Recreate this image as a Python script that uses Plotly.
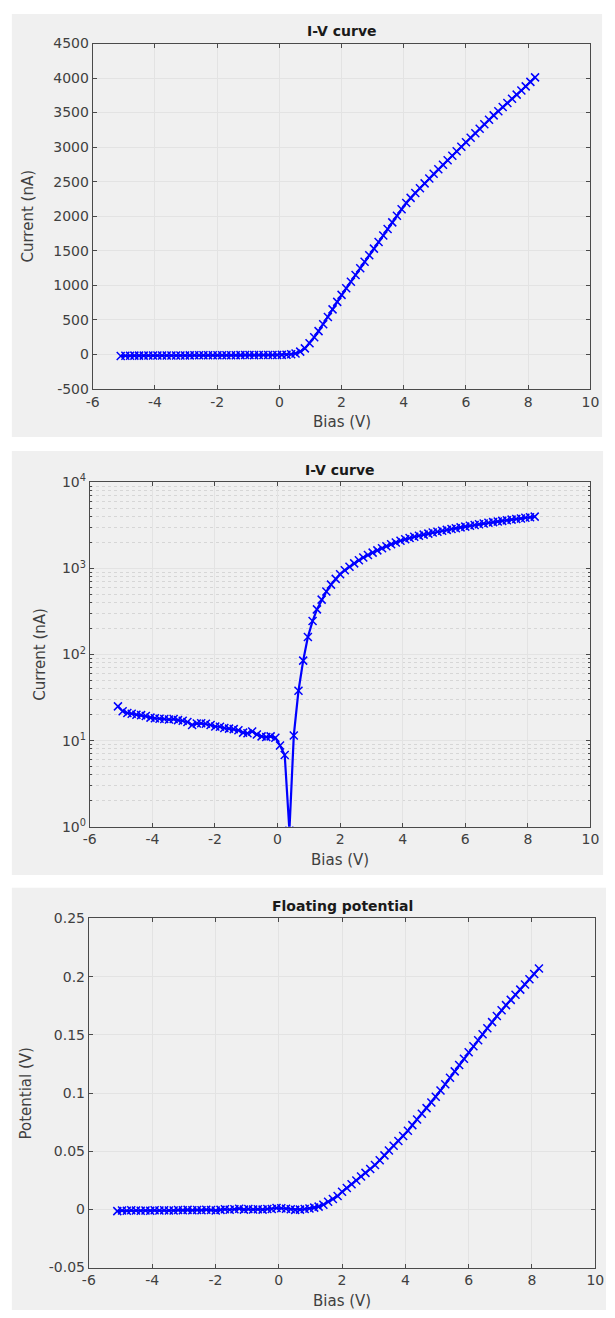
import plotly.graph_objects as go

# ---------------- data ----------------
bias = [-5.10, -4.95, -4.80, -4.66, -4.51, -4.36, -4.21, -4.06, -3.92, -3.77,
        -3.62, -3.47, -3.32, -3.18, -3.03, -2.88, -2.73, -2.58, -2.44, -2.29,
        -2.14, -1.99, -1.84, -1.70, -1.55, -1.40, -1.25, -1.10, -0.96, -0.81,
        -0.66, -0.51, -0.36, -0.22, -0.07, 0.08, 0.23, 0.38, 0.52, 0.67,
        0.82, 0.97, 1.12, 1.26, 1.41, 1.56, 1.71, 1.86, 2.00, 2.15,
        2.30, 2.45, 2.60, 2.74, 2.89, 3.04, 3.19, 3.34, 3.48, 3.63,
        3.78, 3.93, 4.08, 4.22, 4.37, 4.52, 4.67, 4.82, 4.96, 5.11,
        5.26, 5.41, 5.56, 5.70, 5.85, 6.00, 6.15, 6.30, 6.44, 6.59,
        6.74, 6.89, 7.04, 7.18, 7.33, 7.48, 7.63, 7.78, 7.92, 8.07, 8.22]

current_nA = [-25.0, -22.0, -21.0, -20.5, -20.0, -19.8, -19.3, -18.5, -18.2, -18.0,
              -17.8, -17.6, -17.8, -17.3, -17.0, -16.5, -15.2, -15.8, -15.9, -15.7,
              -15.2, -14.6, -14.5, -14.0, -13.8, -13.6, -13.2, -12.4, -12.2, -12.8,
              -11.8, -11.2, -11.0, -11.2, -10.8, -8.8, -6.8, 0.9, 11.5, 38.0,
              85.0, 160.0, 245.0, 335.0, 435.0, 540.0, 650.0, 758.0, 860.0, 955.0,
              1050.0, 1148.0, 1245.0, 1340.0, 1435.0, 1530.0, 1625.0, 1720.0, 1815.0, 1910.0,
              2005.0, 2100.0, 2190.0, 2265.0, 2335.0, 2405.0, 2475.0, 2545.0, 2615.0, 2680.0,
              2745.0, 2810.0, 2875.0, 2940.0, 3005.0, 3070.0, 3135.0, 3200.0, 3265.0, 3330.0,
              3395.0, 3460.0, 3520.0, 3580.0, 3640.0, 3700.0, 3760.0, 3820.0, 3880.0, 3945.0, 4010.0]

potential_V = [-0.0015, -0.0010, -0.0012, -0.0008, -0.0010, -0.0011, -0.0009, -0.0012, -0.0008, -0.0010,
               -0.0007, -0.0010, -0.0009, -0.0006, -0.0008, -0.0004, -0.0007, -0.0005, -0.0008, -0.0003,
               -0.0006, -0.0009, -0.0004, 0.0002, -0.0003, 0.0001, 0.0006, -0.0002, 0.0003, -0.0001,
               0.0002, -0.0002, 0.0004, 0.0003, 0.0012, 0.0010, 0.0006, 0.0002, -0.0004, -0.0002,
               0.0003, 0.0008, 0.0015, 0.0024, 0.0040, 0.0065, 0.0090, 0.0115, 0.0151, 0.0184,
               0.0216, 0.0249, 0.0282, 0.0314, 0.0347, 0.0381, 0.0423, 0.0464, 0.0506, 0.0547,
               0.0588, 0.0630, 0.0675, 0.0724, 0.0773, 0.0822, 0.0870, 0.0919, 0.0968, 0.1021,
               0.1076, 0.1131, 0.1186, 0.1240, 0.1295, 0.1350, 0.1402, 0.1454, 0.1505, 0.1557,
               0.1609, 0.1661, 0.1711, 0.1755, 0.1800, 0.1844, 0.1888, 0.1933, 0.1977, 0.2023, 0.2070]

abs_current_nA = [abs(v) for v in current_nA]

x_tickvals = [-6, -4, -2, 0, 2, 4, 6, 8, 10]
x_ticktext = ["-6", "-4", "-2", "0", "2", "4", "6", "8", "10"]
y1_tickvals = [-500, 0, 500, 1000, 1500, 2000, 2500, 3000, 3500, 4000, 4500]
y1_ticktext = ["-500", "0", "500", "1000", "1500", "2000", "2500", "3000", "3500", "4000", "4500"]
y2_tickvals = [1, 10, 100, 1000, 10000]
y2_ticktext = ["10<sup>0</sup>", "10<sup>1</sup>", "10<sup>2</sup>", "10<sup>3</sup>", "10<sup>4</sup>"]
y3_tickvals = [-0.05, 0, 0.05, 0.1, 0.15, 0.2, 0.25]
y3_ticktext = ["-0.05", "0", "0.05", "0.1", "0.15", "0.2", "0.25"]

titles = ["I-V curve", "I-V curve", "Floating potential"]
ylabels = ["Current (nA)", "Current (nA)", "Potential (V)"]
xlabel = "Bias (V)"

# ---------------- layout geometry (pixels) ----------------
W, H = 615, 1318
FONT = "DejaVu Sans"
BLUE = "#0000ff"
AX = "#4a4a4a"
GRID = "#e3e3e3"
TXT = "#404040"

def px(x):
    return x / W

def py(y):
    return 1 - y / H

panels = [
    dict(left=88, right=599, top=34, bottom=384, bg=(5, 611, 4, 433)),
    dict(left=85, right=599, top=479, bottom=828, bg=(5, 612, 447, 877)),
    dict(left=84, right=604, top=921, bottom=1275, bg=(5, 615, 890, 1318)),
]

fig = go.Figure()

marker = dict(symbol="x-thin", size=8, color=BLUE, line=dict(width=1.5, color=BLUE))
line = dict(color=BLUE, width=2.2)

fig.add_trace(go.Scatter(x=bias, y=current_nA, mode="lines+markers", marker=marker,
                         line=line, xaxis="x", yaxis="y", showlegend=False))
fig.add_trace(go.Scatter(x=bias, y=abs_current_nA, mode="lines+markers", marker=marker,
                         line=line, xaxis="x2", yaxis="y2", showlegend=False))
fig.add_trace(go.Scatter(x=bias, y=potential_V, mode="lines+markers", marker=marker,
                         line=line, xaxis="x3", yaxis="y3", showlegend=False))

common = dict(showline=True, linecolor=AX, linewidth=1, mirror="ticks",
              ticks="inside", ticklen=4, tickcolor=AX, tickwidth=1,
              showgrid=True, gridcolor=GRID, gridwidth=1, zeroline=False,
              tickfont=dict(family=FONT, size=14, color=TXT), fixedrange=True)

layout = dict(width=W, height=H, margin=dict(l=0, r=0, t=0, b=0),
              paper_bgcolor="white", plot_bgcolor="white", showlegend=False)

shapes = []
annotations = []
yranges = [[-500, 4500], [0, 4], [-0.05, 0.25]]
ytv = [y1_tickvals, y2_tickvals, y3_tickvals]
ytt = [y1_ticktext, y2_ticktext, y3_ticktext]
ylab_x = [22, 33, 20]

for i, p in enumerate(panels):
    n = "" if i == 0 else str(i + 1)
    xa = dict(common, domain=[px(p["left"]), px(p["right"])], range=[-6, 10],
              tickvals=x_tickvals, ticktext=x_ticktext, anchor="y" + n)
    ya = dict(common, domain=[py(p["bottom"]), py(p["top"])], range=yranges[i],
              tickvals=ytv[i], ticktext=ytt[i], anchor="x" + n)
    if i == 1:
        ya["type"] = "log"
        ya["minor"] = dict(dtick="D1", showgrid=True, gridcolor="#d6d6d6", griddash="dot",
                           gridwidth=1, ticks="inside", ticklen=2, tickcolor=AX)
    layout["xaxis" + n] = xa
    layout["yaxis" + n] = ya

    x0, x1, y0, y1 = p["bg"]
    shapes.append(dict(type="rect", xref="paper", yref="paper", layer="below",
                       x0=px(x0), x1=px(x1), y0=py(y1), y1=py(y0),
                       fillcolor="#f0f0f0", line=dict(width=0)))
    cx = (p["left"] + p["right"]) / 2
    annotations.append(dict(text="<b>" + titles[i] + "</b>", xref="paper", yref="paper",
                            x=px(cx), y=py(p["top"] - 13), showarrow=False,
                            xanchor="center", yanchor="middle",
                            font=dict(family=FONT, size=14, color="#1a1a1a")))
    annotations.append(dict(text=xlabel, xref="paper", yref="paper",
                            x=px(cx), y=py(p["bottom"] + 34), showarrow=False,
                            xanchor="center", yanchor="middle",
                            font=dict(family=FONT, size=15, color=TXT)))
    annotations.append(dict(text=ylabels[i], xref="paper", yref="paper", textangle=-90,
                            x=px(ylab_x[i]), y=py((p["top"] + p["bottom"]) / 2),
                            showarrow=False, xanchor="center", yanchor="middle",
                            font=dict(family=FONT, size=15, color=TXT)))

layout["shapes"] = shapes
layout["annotations"] = annotations
fig.update_layout(**layout)

fig.write_html("out.html")
